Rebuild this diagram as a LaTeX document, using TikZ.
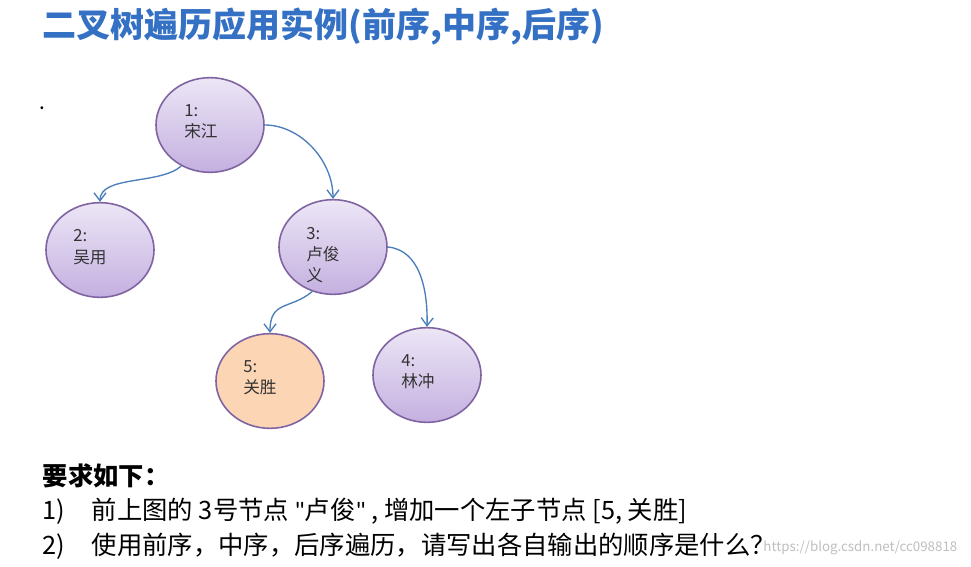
\documentclass[tikz,border=0pt]{standalone}
\usepackage{fontspec}
\setmainfont{Noto Sans CJK SC}
\newfontfamily\latinfont{Carlito}
\usetikzlibrary{arrows.meta}
\definecolor{titleColor}{RGB}{52,113,196}
\definecolor{edgeColor}{RGB}{74,126,187}
\definecolor{ringColor}{RGB}{128,100,162}
\definecolor{topColor}{RGB}{236,230,246}
\definecolor{botColor}{RGB}{196,176,224}
\definecolor{peachColor}{RGB}{252,213,180}
\tikzset{
  treenode/.style={ellipse, draw=ringColor, line width=1.2pt, minimum width=81pt, minimum height=71pt, top color=topColor, bottom color=botColor, inner sep=0pt},
  nodetext/.style={align=left, anchor=west, font=\fontsize{12.5}{16}\selectfont, text=black!80, inner sep=0pt},
  edge/.style={draw=edgeColor, line width=1pt, -{Straight Barb[length=6pt,width=9pt]}},
}
\usetikzlibrary{shapes.geometric}
\begin{document}
\begin{tikzpicture}[x=0.75pt,y=-0.75pt]
\path[use as bounding box,fill=white] (0,0) rectangle (971,567);

\node[anchor=west,text=titleColor,font=\fontsize{25.5}{30}\bfseries\selectfont] (title) at (38,27) {二叉树遍历应用实例(前序,中序,后序)};
\node[font=\bfseries] (dot) at (42,108) {.};

% nodes
\node[treenode] (n1) at (210,125) {};
\node[treenode] (n2) at (100,250) {};
\node[treenode] (n3) at (333,247) {};
\node[treenode, top color=peachColor, bottom color=peachColor] (n5) at (270,381) {};
\node[treenode] (n4) at (427,375) {};

\node[nodetext] (t1) at (184,122) {1:\\宋江};
\node[nodetext] (t2) at (73,247) {2:\\吴用};
\node[nodetext] (t3) at (306,255) {3:\\卢俊\\义};
\node[nodetext] (t5) at (243,378) {5:\\关胜};
\node[nodetext] (t4) at (401,372) {4:\\林冲};

% connectors
\draw[edge] (n1.-125) .. controls (160,185) and (100,175) .. (n2.north);
\draw[edge] (n1.east) .. controls (300,125) and (333,160) .. (n3.north);
\draw[edge] (n3.-115) .. controls (290,310) and (270,300) .. (n5.north);
\draw[edge] (n3.east) .. controls (420,250) and (428,290) .. (n4.north);

% text below
\node[anchor=west,font=\fontsize{19}{22}\bfseries\selectfont] (req) at (38,476) {要求如下：};
\node[anchor=west,font=\fontsize{19}{22}\selectfont] (q1) at (38,511) {1)\hspace{20pt}前上图的 3号节点 {\latinfont\symbol{34}}卢俊{\latinfont\symbol{34}} , 增加一个左子节点 [5, 关胜]};
\node[anchor=west,font=\fontsize{19}{22}\selectfont] (q2) at (38,546) {2)\hspace{20pt}使用前序，中序，后序遍历，请写出各自输出的顺序是什么？};
\node[anchor=east,text=black!25,font=\fontsize{10}{12}\selectfont] (mark) at (962,548) {https://blog.csdn.net/cc098818};
\end{tikzpicture}
\end{document}
